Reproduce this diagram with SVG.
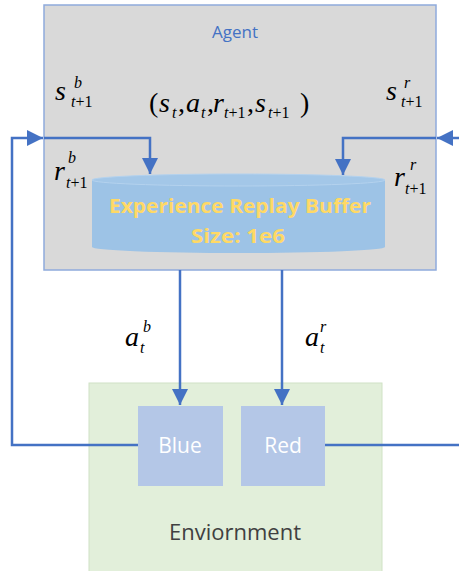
<svg xmlns="http://www.w3.org/2000/svg" width="459" height="571" viewBox="0 0 459 571">
<style>
.sans{font-family:"Open Sans","Liberation Sans",sans-serif}
.math{font-family:"Liberation Serif","Times New Roman",serif;font-style:italic;fill:#000}
.m{font-size:28px}
.s{font-size:16px}
.up{font-style:normal}
.conn{stroke:#4472c4;stroke-width:2.5;fill:none}
</style>
<defs>
<marker id="ah" viewBox="0 0 10 10" refX="10" refY="5" markerWidth="6.4" markerHeight="6.4" markerUnits="strokeWidth" orient="auto">
<path d="M0,0 L10,5 L0,10 Z" fill="#4472c4"/>
</marker>
</defs>
<rect width="459" height="571" fill="#fff"/>
<g id="agent">
<rect x="44" y="5" width="392" height="265" fill="#d9d9d9" stroke="#8faadc" stroke-width="1.5"/>
<text class="sans" x="235" y="38" font-size="17" fill="#4472c4" text-anchor="middle">Agent</text>
<text class="math"><tspan class="m" x="55" y="100">s</tspan><tspan class="s" x="74" y="88">b</tspan><tspan class="s" x="71" y="107">t</tspan><tspan class="s up">+1</tspan></text>
<text class="math"><tspan class="m" x="386" y="100">s</tspan><tspan class="s" x="404" y="88">r</tspan><tspan class="s" x="401" y="107">t</tspan><tspan class="s up">+1</tspan></text>
<text class="math"><tspan class="m" x="54" y="180">r</tspan><tspan class="s" x="68" y="163">b</tspan><tspan class="s" x="66" y="188">t</tspan><tspan class="s up">+1</tspan></text>
<text class="math"><tspan class="m" x="394" y="186">r</tspan><tspan class="s" x="410" y="170">r</tspan><tspan class="s" x="405" y="194">t</tspan><tspan class="s up">+1</tspan></text>
<text class="math"><tspan class="m up" x="149" y="112">(</tspan><tspan class="m" x="159" y="112">s</tspan><tspan class="s" x="172" y="118">t</tspan><tspan class="m up" x="178" y="112">,</tspan><tspan class="m" x="186" y="112">a</tspan><tspan class="s" x="201" y="118">t</tspan><tspan class="m up" x="207" y="112">,</tspan><tspan class="m" x="213" y="112">r</tspan><tspan class="s" x="224" y="118">t</tspan><tspan class="s up">+1</tspan><tspan class="m up" x="247" y="112">,</tspan><tspan class="m" x="255" y="112">s</tspan><tspan class="s" x="268" y="118">t</tspan><tspan class="s up">+1</tspan><tspan class="m up" x="300" y="112">)</tspan></text>
</g>
<g id="buffer">
<path d="M92,180 L92,247 A146.5,6 0 0 0 385,247 L385,180 Z" fill="#9dc3e6"/>
<ellipse cx="238.5" cy="180" rx="146.5" ry="6" fill="#a3c7e8" stroke="#b4d2ee" stroke-width="1"/>
<text class="sans" x="240" y="213" font-size="20" font-weight="bold" fill="#ffd966" text-anchor="middle" textLength="262" lengthAdjust="spacingAndGlyphs">Experience Replay Buffer</text>
<text class="sans" x="238" y="243" font-size="20" font-weight="bold" fill="#ffd966" text-anchor="middle" textLength="94" lengthAdjust="spacingAndGlyphs">Size: 1e6</text>
</g>
<g id="environment">
<rect x="89" y="383" width="293" height="195" fill="#e2efda" stroke="#d0e2c5" stroke-width="1"/>
<text class="sans" x="235" y="540" font-size="22" fill="#404040" text-anchor="middle">Enviornment</text>
</g>
<g id="blue">
<rect x="138" y="406" width="85" height="80" fill="#b4c7e7"/>
<text class="sans" x="180" y="453" font-size="21" fill="#fff" text-anchor="middle">Blue</text>
</g>
<g id="red">
<rect x="241" y="406" width="84" height="80" fill="#b4c7e7"/>
<text class="sans" x="283" y="453" font-size="21" fill="#fff" text-anchor="middle">Red</text>
</g>
<g id="action-labels">
<text class="math"><tspan class="m" x="125" y="346">a</tspan><tspan class="s" x="143" y="332">b</tspan><tspan class="s" x="140" y="353">t</tspan></text>
<text class="math"><tspan class="m" x="305" y="346">a</tspan><tspan class="s" x="320" y="332">r</tspan><tspan class="s" x="320" y="353">t</tspan></text>
</g>
<g id="connectors">
<path class="conn" d="M138,445 H12 V138 H43" marker-end="url(#ah)"/>
<path class="conn" d="M44,138 H150 V174" marker-end="url(#ah)"/>
<path class="conn" d="M325,445 H459"/>
<path class="conn" d="M459,138 H437" marker-end="url(#ah)"/>
<path class="conn" d="M436,138 H343 V175" marker-end="url(#ah)"/>
<path class="conn" d="M180,270 V405" marker-end="url(#ah)"/>
<path class="conn" d="M282,270 V405" marker-end="url(#ah)"/>
</g>
</svg>
